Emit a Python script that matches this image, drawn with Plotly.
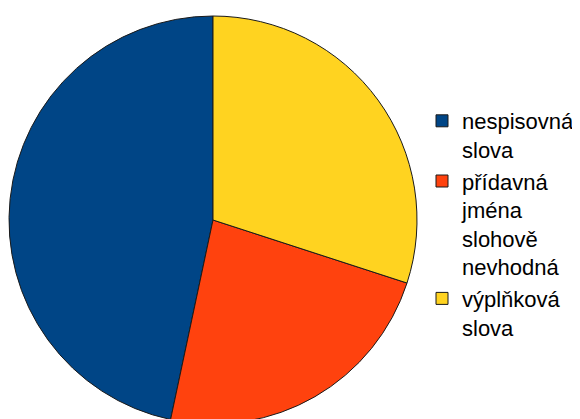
import plotly.graph_objects as go

categories = ["nespisovná<br>slova", "přídavná<br>jména<br>slohově<br>nevhodná", "výplňková<br>slova"]
values = [14, 7, 9]
colors = ["#004586", "#ff420e", "#ffd320"]

W, H = 580, 419
# first slice runs counterclockwise from 12 o'clock
start_rotation = 360 - 360 * values[0] / sum(values)

fig = go.Figure(go.Pie(
    labels=categories,
    values=values,
    sort=False,
    direction="counterclockwise",
    rotation=start_rotation,
    textinfo="none",
    hoverinfo="label+value+percent",
    marker=dict(colors=colors, line=dict(color="#1a1a1a", width=1)),
    domain=dict(x=[1 / W, 409 / W], y=[0, 1]),
))

fig.update_layout(
    width=W, height=H,
    margin=dict(l=0, r=0, t=8, b=3),
    paper_bgcolor="white",
    plot_bgcolor="white",
    font=dict(family="Liberation Sans, Arial, sans-serif", size=22, color="#000000"),
    legend=dict(
        x=414 / W, y=1.0 - 84 / 408,
        xanchor="left", yanchor="top",
        valign="top",
        bgcolor="rgba(0,0,0,0)",
        tracegroupgap=0,
    ),
    showlegend=True,
)

fig.write_html("out.html")
